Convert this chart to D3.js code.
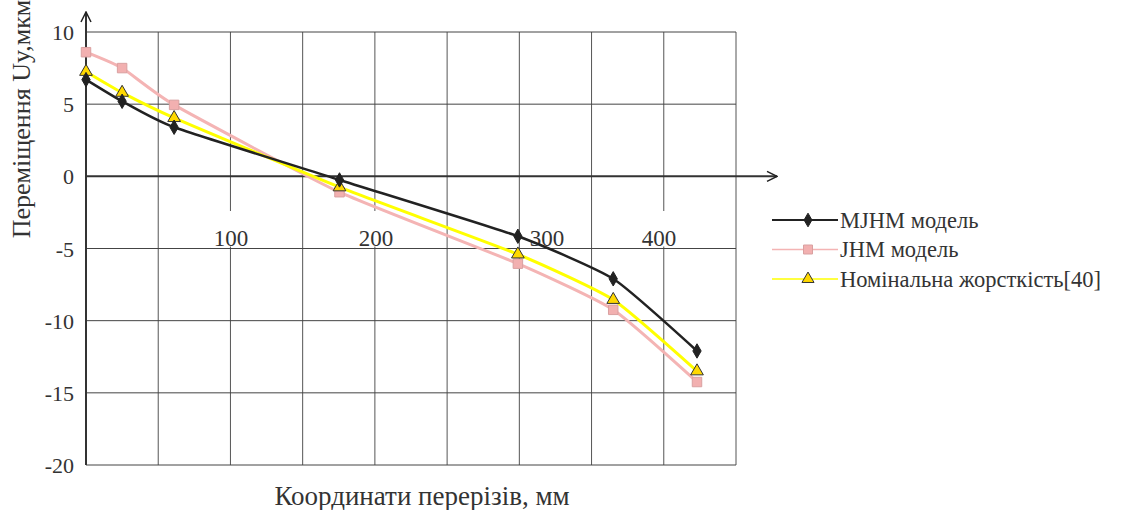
<!DOCTYPE html>
<html>
<head>
<meta charset="utf-8">
<script src="https://cdn.jsdelivr.net/npm/d3@7"></script>
<style>
  body { margin: 0; background: #fff; }
</style>
</head>
<body>
<svg></svg>
<script>
// data
let xs = [0, 25, 61, 175.5, 299, 365, 423]
let mjhm = [6.7, 5.2, 3.4, -0.25, -4.15, -7.1, -12.1]
let jhm = [8.6, 7.5, 4.95, -1.1, -6.05, -9.25, -14.25]
let nominal = [7.25, 5.8, 4.05, -0.75, -5.4, -8.55, -13.5]
let seriesNames = ['MJHM модель', 'JHM модель', 'Номінальна жорсткість[40]']
let xTickLabels = [100, 200, 300, 400]
let yTicks = [10, 5, 0, -5, -10, -15, -20]

let width = 1125
let height = 510
let plotLeft = 86, plotRight = 736, plotTop = 32, plotBottom = 465
let serif = "'Times New Roman'"

let svg = d3.select('svg')
    .attr('width', width)
    .attr('height', height)
    .style('display', 'block')

let xScale = d3.scaleLinear().domain([0, 450]).range([plotLeft, plotRight])
let yScale = d3.scaleLinear().domain([-20, 10]).range([plotBottom, plotTop])

// grid
let grid = svg.append('g')
grid.selectAll('.vgrid')
    .data(d3.range(50, 451, 50))
    .enter()
    .append('line')
    .attr('x1', d => xScale(d)).attr('x2', d => xScale(d))
    .attr('y1', plotTop).attr('y2', plotBottom)
    .attr('stroke', '#555').attr('stroke-width', 1)

grid.selectAll('.hgrid')
    .data(yTicks.filter(d => d !== 0))
    .enter()
    .append('line')
    .attr('x1', plotLeft).attr('x2', plotRight)
    .attr('y1', d => yScale(d)).attr('y2', d => yScale(d))
    .attr('stroke', '#444').attr('stroke-width', 1)

// x tick labels sit inside the plot with a white box behind
let xlab = svg.append('g')
let xLabelPos = {100: 231, 200: 376, 300: 547, 400: 659}
xlab.selectAll('rect')
    .data(xTickLabels)
    .enter()
    .append('rect')
    .attr('x', d => xLabelPos[d] - 22)
    .attr('y', 211)
    .attr('width', 44)
    .attr('height', 35.5)
    .attr('fill', '#fff')
xlab.selectAll('text')
    .data(xTickLabels)
    .enter()
    .append('text')
    .attr('x', d => xLabelPos[d])
    .attr('y', 246)
    .attr('text-anchor', 'middle')
    .attr('font-family', serif)
    .attr('font-size', 23)
    .attr('fill', '#333')
    .text(d => d)

// axes with arrows
svg.append('defs').append('marker')
    .attr('id', 'arrow')
    .attr('viewBox', '0 0 12 12')
    .attr('refX', 11).attr('refY', 6)
    .attr('markerWidth', 12).attr('markerHeight', 12)
    .attr('markerUnits', 'userSpaceOnUse')
    .attr('orient', 'auto')
    .append('path')
    .attr('d', 'M1,1 L11,6 L1,11')
    .attr('fill', 'none')
    .attr('stroke', '#222')
    .attr('stroke-width', 1.5)

svg.append('line')
    .attr('x1', plotLeft).attr('x2', plotLeft)
    .attr('y1', plotBottom).attr('y2', 12)
    .attr('stroke', '#333').attr('stroke-width', 2)
    .attr('marker-end', 'url(#arrow)')

svg.append('line')
    .attr('x1', plotLeft).attr('x2', 777)
    .attr('y1', yScale(0)).attr('y2', yScale(0))
    .attr('stroke', '#333').attr('stroke-width', 2)
    .attr('marker-end', 'url(#arrow)')

// y tick labels
svg.append('g')
    .selectAll('text')
    .data(yTicks)
    .enter()
    .append('text')
    .attr('x', 74)
    .attr('y', d => yScale(d) + 8)
    .attr('text-anchor', 'end')
    .attr('font-family', serif)
    .attr('font-size', 22)
    .attr('fill', '#333')
    .text(d => d)

// axis titles
svg.append('text')
    .attr('transform', 'translate(30,119) rotate(-90)')
    .attr('text-anchor', 'middle')
    .attr('font-family', serif)
    .attr('font-size', 26)
    .attr('fill', '#333')
    .text('Переміщення Uy,мкм')

svg.append('text')
    .attr('x', 422)
    .attr('y', 505)
    .attr('text-anchor', 'middle')
    .attr('font-family', serif)
    .attr('font-size', 27)
    .attr('fill', '#333')
    .text('Координати перерізів, мм')

// series
let series = [
    {name: seriesNames[0], values: mjhm, color: '#222', width: 2.5, marker: 'diamond', fill: '#222', stroke: '#222', size: 60},
    {name: seriesNames[1], values: jhm, color: '#f4b4b4', width: 3, marker: 'square', fill: '#f2b0b0', stroke: '#d9a0a0', size: 90},
    {name: seriesNames[2], values: nominal, color: '#ffff00', width: 3, marker: 'triangle', fill: '#ffd800', stroke: '#333', size: 70}
]
let symbolType = {diamond: d3.symbolDiamond, square: d3.symbolSquare, triangle: d3.symbolTriangle}

let line = d3.line()
    .x(d => xScale(d[0]))
    .y(d => yScale(d[1]))
    .curve(d3.curveCardinal.tension(0.5))

let drawOrder = [1, 2, 0]
drawOrder.forEach(i => {
    let s = series[i]
    let pts = xs.map((x, j) => [x, s.values[j]])
    svg.append('path')
        .datum(pts)
        .attr('d', line)
        .attr('fill', 'none')
        .attr('stroke', s.color)
        .attr('stroke-width', s.width)
})
drawOrder.forEach(i => {
    let s = series[i]
    let pts = xs.map((x, j) => [x, s.values[j]])
    svg.append('g')
        .selectAll('path')
        .data(pts)
        .enter()
        .append('path')
        .attr('d', d3.symbol().type(symbolType[s.marker]).size(s.size))
        .attr('transform', d => 'translate(' + xScale(d[0]) + ',' + yScale(d[1]) + ')')
        .attr('fill', s.fill)
        .attr('stroke', s.stroke)
        .attr('stroke-width', 1)
})

// legend
let legend = svg.append('g')
series.forEach((s, i) => {
    let y = 220 + i * 29.5
    legend.append('line')
        .attr('x1', 772).attr('x2', 838)
        .attr('y1', y).attr('y2', y)
        .attr('stroke', s.color)
        .attr('stroke-width', s.marker === 'diamond' ? 2 : 1.5)
    legend.append('path')
        .attr('d', d3.symbol().type(symbolType[s.marker]).size(s.size * 0.9))
        .attr('transform', 'translate(808,' + y + ')')
        .attr('fill', s.fill)
        .attr('stroke', s.stroke)
        .attr('stroke-width', 1)
    legend.append('text')
        .attr('x', 840)
        .attr('y', y + 7.5)
        .attr('font-family', serif)
        .attr('font-size', 22.5)
        .attr('fill', '#333')
        .text(s.name)
})
</script>
</body>
</html>
